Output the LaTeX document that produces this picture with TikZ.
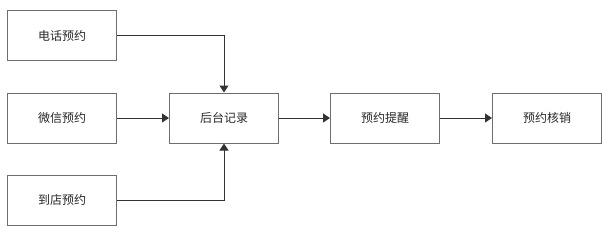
\documentclass[tikz,border=0pt]{standalone}
\usepackage{fontspec}
\setmainfont{Noto Sans CJK SC}
\usetikzlibrary{arrows.meta}
\definecolor{boxc}{HTML}{6E6E6E}
\definecolor{linec}{HTML}{333333}
\tikzset{
  box/.style={draw=boxc, line width=1pt, minimum width=109pt, minimum height=50pt, inner sep=0pt, font=\fontsize{12pt}{14pt}\selectfont, text=black!85},
  conn/.style={draw=linec, line width=1pt, -{Triangle[length=7pt,width=9pt]}}
}
\begin{document}
\begin{tikzpicture}[x=1pt,y=-1pt]
\useasboundingbox (0,0) rectangle (602,226);
\node[box] (phone) at (62,35.5) {电话预约};
\node[box] (wechat) at (62,118) {微信预约};
\node[box] (store) at (62,200) {到店预约};
\node[box] (record) at (224,118) {后台记录};
\node[box] (remind) at (385,118) {预约提醒};
\node[box] (verify) at (547,118) {预约核销};
\draw[conn] (phone.east) -| (record.north);
\draw[conn] (wechat.east) -- (record.west);
\draw[conn] (store.east) -| (record.south);
\draw[conn] (record.east) -- (remind.west);
\draw[conn] (remind.east) -- (verify.west);
\end{tikzpicture}
\end{document}
